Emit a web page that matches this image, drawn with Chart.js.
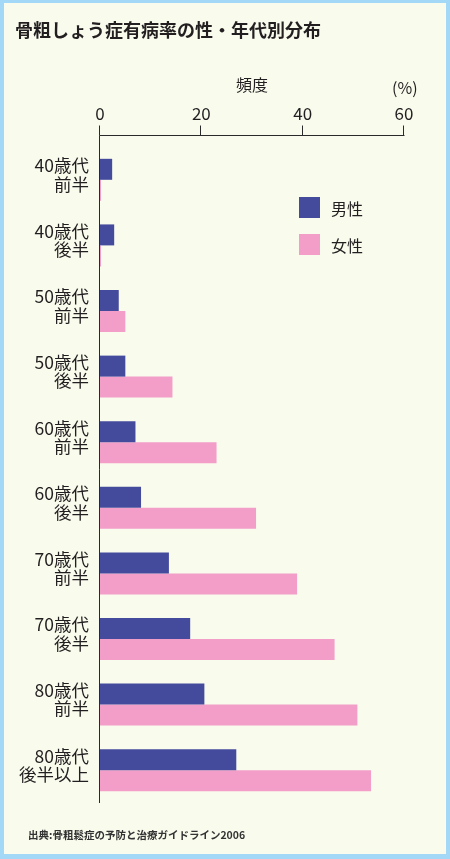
<!DOCTYPE html>
<html>
<head>
<meta charset="UTF-8">
<title>骨粗しょう症有病率の性・年代別分布</title>
<script src="https://cdn.jsdelivr.net/npm/chart.js"></script>
<style>
    html, body { margin: 0; padding: 0; }
    body { width: 450px; height: 859px; position: relative; overflow: hidden;
           font-family: "Noto Sans CJK JP", "Noto Sans", sans-serif; color: #231f20; }
    #frame { position: absolute; left: 0; top: 0; width: 450px; height: 859px; box-sizing: border-box;
             background: #f9fbed; border-style: solid; border-color: #a3d9f6;
             border-width: 3px 4px 5px 4px; }
    #chart { position: absolute; left: 0; top: 0; }
    .txt { position: absolute; white-space: nowrap; line-height: 1; }
    #title { left: 15px; top: 20px; font-size: 18px; font-weight: bold; }
    #unit { left: 392px; top: 79px; font-size: 16px; }
    #note { left: 28px; top: 830px; font-size: 10.5px; font-weight: bold; color: #333; }
    #legend { position: absolute; left: 299px; top: 197px; }
    .item { display: flex; align-items: center; height: 21px; margin-bottom: 16px; font-size: 16px; }
    .box { width: 21px; height: 21px; margin-right: 11px; }
</style>
</head>
<body>
<div id="frame"></div>
<canvas id="chart" width="450" height="859"></canvas>
<div class="txt" id="title">骨粗しょう症有病率の性・年代別分布</div>
<div class="txt" id="unit">(%)</div>
<div id="legend"></div>
<div class="txt" id="note">出典:骨粗鬆症の予防と治療ガイドライン2006</div>

<script>
    // 年代（2行ラベル）
    var ageGroups = [
        ['40歳代', '前半'], ['40歳代', '後半'],
        ['50歳代', '前半'], ['50歳代', '後半'],
        ['60歳代', '前半'], ['60歳代', '後半'],
        ['70歳代', '前半'], ['70歳代', '後半'],
        ['80歳代', '前半'], ['80歳代', '後半以上']
    ];
    // 頻度 (%)
    var male   = [2.4, 2.8, 3.7, 5.0, 7.0, 8.1, 13.6, 17.8, 20.6, 26.9];
    var female = [0.2, 0.2, 5.0, 14.3, 23.0, 30.8, 38.9, 46.3, 50.8, 53.5];
    var xTicks = [0, 20, 40, 60];

    var maleColor = '#444b9d';
    var femaleColor = '#f29ec8';

    // 軸線とX軸の目盛り線（グラフ領域の少し上に描く）
    var axisLines = {
        id: 'axisLines',
        afterDatasetsDraw: function (chart) {
            var ctx = chart.ctx, area = chart.chartArea, x = chart.scales.x;
            var y0 = Math.round(area.top - 12) + 0.5;
            var x0 = Math.round(x.getPixelForValue(xTicks[0])) - 0.5;
            ctx.save();
            ctx.strokeStyle = '#2a2a2a';
            ctx.lineWidth = 1;
            ctx.beginPath();
            ctx.moveTo(x0, y0);
            ctx.lineTo(Math.round(x.getPixelForValue(xTicks[xTicks.length - 1])) + 0.5, y0);
            xTicks.forEach(function (v) {
                var px = Math.round(x.getPixelForValue(v)) - 0.5;
                ctx.moveTo(px, y0);
                ctx.lineTo(px, y0 - 10);
            });
            ctx.moveTo(x0, y0);
            ctx.lineTo(x0, area.bottom);
            ctx.stroke();
            ctx.restore();
        }
    };

    var chart = new Chart(document.getElementById('chart').getContext('2d'), {
        type: 'bar',
        data: {
            labels: ageGroups,
            datasets: [
                { label: '男性', data: male, backgroundColor: maleColor },
                { label: '女性', data: female, backgroundColor: femaleColor }
            ]
        },
        options: {
            indexAxis: 'y',
            responsive: false,
            animation: false,
            devicePixelRatio: 1,
            layout: { padding: { top: 71, left: 0, right: 46, bottom: 56 } },
            categoryPercentage: 0.64,
            barPercentage: 1.0,
            plugins: { legend: { display: false }, tooltip: { enabled: false } },
            scales: {
                x: {
                    position: 'top',
                    min: 0,
                    max: 60,
                    afterBuildTicks: function (scale) {
                        scale.ticks = xTicks.map(function (v) { return { value: v }; });
                    },
                    afterFit: function (scale) { scale.height = 76; },
                    grid: { display: false, drawTicks: false },
                    border: { display: false },
                    ticks: { color: '#231f20', padding: 23, font: { family: 'Noto Sans CJK JP', size: 17 } },
                    title: { display: true, text: '頻度', color: '#231f20',
                             font: { family: 'Noto Sans CJK JP', size: 16 } }
                },
                y: {
                    afterFit: function (scale) { scale.width = 100; },
                    grid: { display: false, drawTicks: false },
                    border: { display: false },
                    ticks: { color: '#231f20', padding: 11, labelOffset: -5,
                             font: { family: 'Noto Sans CJK JP', size: 17.5, lineHeight: 1.05 } }
                }
            }
        },
        plugins: [axisLines]
    });

    // 凡例
    var legend = document.getElementById('legend');
    chart.data.datasets.forEach(function (ds) {
        var item = document.createElement('div');
        item.className = 'item';
        item.innerHTML = '<span class="box" style="background:' + ds.backgroundColor + '"></span>' + ds.label;
        legend.appendChild(item);
    });
</script>
</body>
</html>
